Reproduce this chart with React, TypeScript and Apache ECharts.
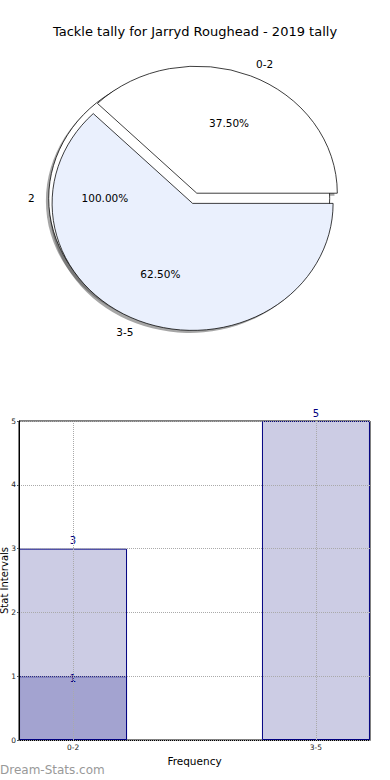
import React, { useEffect, useRef } from 'react';
import * as echarts from 'echarts';

const titleText = 'Tackle tally for Jarryd Roughead - 2019 tally';
const pieLabels = ['0-2', '3-5'];
const pieValues = [3, 5];
const pieColors = ['#ffffff', '#eaf0fd'];
const bgLabels = ['2'];
const bgValues = [1];
const bgColors = ['#ffffff'];
const barCategories = ['0-2', '3-5'];
const barTotals = [3, 5];
const barHighlight: (number | null)[] = [1, null];
const watermark = 'Dream-Stats.com';

const FONT = 'DejaVu Sans, sans-serif';
const PIE_CX = 194.7;
const PIE_CY = 198.3;
const RX = 140.5;
const RY = 127;
const EXPLODE = 5.5;

type Wedge = {
  label: string;
  pct: string;
  t1: number;
  t2: number;
  cx: number;
  cy: number;
  color: string;
};

function buildWedges(values: number[], labels: string[], colors: string[]): Wedge[] {
  const total = values.reduce((a, b) => a + b, 0);
  let cum = 0;
  return values.map((v, i) => {
    const t1 = (cum / total) * 360;
    cum += v;
    const t2 = (cum / total) * 360;
    const mid = ((t1 + t2) / 2) * Math.PI / 180;
    return {
      label: labels[i],
      pct: ((v / total) * 100).toFixed(2) + '%',
      t1,
      t2,
      cx: PIE_CX + EXPLODE * Math.cos(mid),
      cy: PIE_CY - EXPLODE * Math.sin(mid),
      color: colors[i],
    };
  });
}

const bgWedges = buildWedges(bgValues, bgLabels, bgColors);
const frontWedges = buildWedges(pieValues, pieLabels, pieColors);
const allWedges = [...bgWedges, ...frontWedges];

function sectorShape(w: Wedge) {
  return {
    cx: 0,
    cy: 0,
    r0: 0,
    r: RX,
    startAngle: -w.t2 * Math.PI / 180,
    endAngle: -w.t1 * Math.PI / 180,
    clockwise: true,
  };
}

function wedgeRender(wedges: Wedge[]) {
  return (params: any) => {
    const w = wedges[params.dataIndex];
    return {
      type: 'sector',
      x: w.cx,
      y: w.cy,
      scaleY: RY / RX,
      shape: sectorShape(w),
      style: { fill: w.color, stroke: '#000', lineWidth: 0.8, strokeNoScale: true },
    };
  };
}

function labelRender(params: any) {
  const w = allWedges[params.dataIndex];
  const mid = ((w.t1 + w.t2) / 2) * Math.PI / 180;
  const c = Math.cos(mid);
  const s = Math.sin(mid);
  const lx = w.cx + 1.1 * RX * c;
  const ly = w.cy - 1.1 * RY * s;
  const px = w.cx + 0.6 * RX * c;
  const py = w.cy - 0.6 * RY * s;
  const align = c > 0 ? 'left' : 'right';
  return {
    type: 'group',
    children: [
      {
        type: 'text',
        x: lx,
        y: ly,
        style: {
          text: w.label,
          align,
          textAlign: align,
          verticalAlign: 'middle',
          textVerticalAlign: 'middle',
          fontSize: 10.5,
          fontFamily: FONT,
          fill: '#000',
        },
      },
      {
        type: 'text',
        x: px,
        y: py,
        style: {
          text: w.pct,
          align: 'center',
          textAlign: 'center',
          verticalAlign: 'middle',
          textVerticalAlign: 'middle',
          fontSize: 10.5,
          fontFamily: FONT,
          fill: '#000',
        },
      },
    ],
  };
}

function shadowRender(params: any) {
  const w = allWedges[params.dataIndex];
  return {
    type: 'sector',
    x: w.cx - 0.02 * RX,
    y: w.cy + 0.02 * RY,
    scaleY: RY / RX,
    shape: sectorShape(w),
    style: { fill: '#4d4d4d', opacity: 0.5 },
  };
}

export default function App() {
  const ref = useRef<HTMLDivElement>(null);
  useEffect(() => {
    if (!ref.current) return;
    const chart = echarts.init(ref.current, undefined, { renderer: 'svg' });
    const option: any = {
      animation: false,
      backgroundColor: '#fff',
      title: {
        text: titleText,
        left: 'center',
        top: 20,
        textStyle: { fontSize: 13, fontWeight: 'normal', color: '#000', fontFamily: FONT },
      },
      graphic: [
        {
          type: 'text',
          left: 0,
          top: 764,
          style: { text: watermark, fill: '#999', fontSize: 12, fontFamily: FONT },
        },
      ],
      grid: {
        left: 19,
        right: 20,
        top: 421,
        bottom: 40,
        outerBoundsMode: 'none',
        containLabel: false,
        show: true,
        borderColor: '#000',
        borderWidth: 1,
        backgroundColor: 'transparent',
      },
      xAxis: {
        type: 'value',
        min: -0.2225,
        max: 1.2225,
        name: 'Frequency',
        nameLocation: 'middle',
        nameGap: 15,
        nameMoveOverlap: false,
        nameTextStyle: { fontSize: 10.5, color: '#000', fontFamily: FONT },
        axisLine: { show: true, onZero: false, lineStyle: { color: '#000' } },
        axisTick: { show: true, customValues: [0, 1], length: 3, inside: true, lineStyle: { color: '#888' } },
        axisLabel: {
          customValues: [0, 1],
          formatter: (v: number) => barCategories[Math.round(v)],
          fontSize: 7.5,
          color: '#222',
          fontFamily: FONT,
          margin: 3,
        },
        splitLine: { show: false },
      },
      yAxis: {
        type: 'value',
        min: 0,
        max: 5,
        interval: 1,
        z: 5,
        name: 'Stat Intervals',
        nameLocation: 'middle',
        nameGap: 10,
        nameMoveOverlap: false,
        nameTextStyle: { fontSize: 10, color: '#000', fontFamily: FONT },
        axisLine: { show: true, onZero: false, lineStyle: { color: '#000' } },
        axisTick: { show: true, length: 2, lineStyle: { color: '#555' } },
        axisLabel: { fontSize: 7.5, color: '#222', fontFamily: FONT, margin: 3 },
        splitLine: { show: true, lineStyle: { type: 'dotted', color: '#aaa', width: 1 } },
      },
      series: [
        {
          type: 'custom',
          coordinateSystem: 'none',
          silent: true,
          z: 1,
          data: allWedges.map((_, i) => i),
          renderItem: shadowRender,
        },
        {
          type: 'custom',
          coordinateSystem: 'none',
          silent: true,
          z: 2,
          data: bgWedges.map((_, i) => i),
          renderItem: wedgeRender(bgWedges),
        },
        {
          type: 'custom',
          coordinateSystem: 'none',
          silent: true,
          z: 3,
          data: frontWedges.map((_, i) => i),
          renderItem: wedgeRender(frontWedges),
        },
        {
          type: 'custom',
          coordinateSystem: 'none',
          silent: true,
          z: 4,
          data: allWedges.map((_, i) => i),
          renderItem: labelRender,
        },
        {
          type: 'bar',
          silent: true,
          barWidth: 108,
          barGap: '-100%',
          data: barTotals.map((v, i) => [i, v]),
          itemStyle: { color: '#ccccE4', borderColor: '#000080', borderWidth: 1 },
          label: { show: true, position: 'top', distance: 3, color: '#000080', fontSize: 10, fontFamily: FONT },
        },
        {
          type: 'bar',
          silent: true,
          barWidth: 108,
          barGap: '-100%',
          data: barHighlight.map((v, i) => (v == null ? [i, '-'] : [i, v])),
          itemStyle: { color: '#a3a3d0', borderColor: '#000080', borderWidth: 1 },
          label: { show: true, position: 'top', distance: 3, offset: [0, 10], color: '#000080', fontSize: 10, fontFamily: FONT },
          markLine: {
            silent: true,
            symbol: ['none', 'none'],
            label: { show: false },
            lineStyle: { type: 'dotted', color: '#aaa', width: 1 },
            data: barCategories.map((_, i) => ({ xAxis: i })),
          },
        },
      ],
    };
    chart.setOption(option);
    return () => chart.dispose();
  }, []);
  return <div ref={ref} style={{ position: 'fixed', left: 0, top: 0, width: 390, height: 780 }} />;
}
